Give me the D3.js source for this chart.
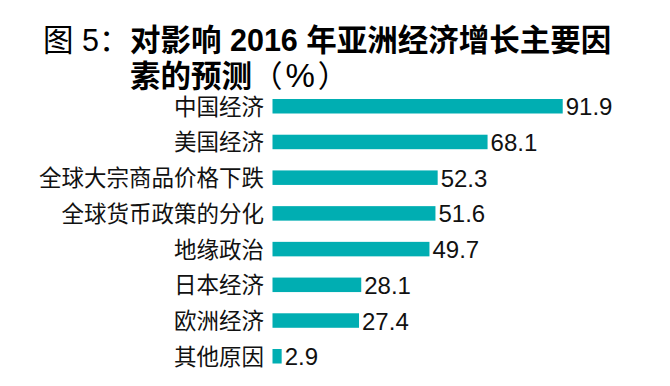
<!DOCTYPE html>
<html><head><meta charset="utf-8">
<script src="https://cdn.jsdelivr.net/npm/d3@7"></script>
<style>body{margin:0;background:#fff}svg{display:block}</style>
</head><body>
<script>
const categories = ["中国经济","美国经济","全球大宗商品价格下跌","全球货币政策的分化","地缘政治","日本经济","欧洲经济","其他原因"];
const values = [91.9, 68.1, 52.3, 51.6, 49.7, 28.1, 27.4, 2.9];
const titlePrefix = "图 5：";
const titleLine1 = "对影响 2016 年亚洲经济增长主要因";
const titleLine2a = "素的预测";
const titleLine2b = ["（", "%", "）"];

const W = 670, H = 386;
const svg = d3.select("body").append("svg").attr("width", W).attr("height", H);
const FONT = "'Liberation Sans', Arial, 'Noto Sans CJK SC', sans-serif";

const x = d3.scaleLinear().domain([0, 100]).range([272.5, 588.3]);
const y = d3.scaleBand().domain(categories).range([99, 363.5]).paddingInner(0.594).paddingOuter(0);

// title
svg.append("text").attr("x", 43).attr("y", 51)
  .attr("font-family", FONT).attr("font-size", 30.5).attr("fill", "#000")
  .text(titlePrefix);
svg.append("text").attr("x", 130).attr("y", 51)
  .attr("font-family", FONT).attr("font-size", 30.5).attr("font-weight", "bold").attr("fill", "#000")
  .text(titleLine1);
const t2 = svg.append("text").attr("x", 130).attr("y", 87)
  .attr("font-family", FONT).attr("font-size", 30.5).attr("fill", "#000");
t2.append("tspan").attr("font-weight", "bold").text(titleLine2a);
t2.append("tspan").attr("font-weight", "normal").text(titleLine2b[0]);
t2.append("tspan").attr("font-weight", "normal").attr("font-size", 33).attr("dx", 3).text(titleLine2b[1]);
t2.append("tspan").attr("font-weight", "normal").attr("dx", 3).text(titleLine2b[2]);

const g = svg.append("g");
g.selectAll("rect.bar").data(values).join("rect").attr("class","bar")
  .attr("x", x(0)).attr("y", (d,i) => y(categories[i]))
  .attr("width", d => x(d) - x(0)).attr("height", y.bandwidth())
  .attr("fill", "#00aeb2");

g.selectAll("text.cat").data(categories).join("text").attr("class","cat")
  .attr("x", 264).attr("y", d => y(d) + y.bandwidth()/2 + 1)
  .attr("text-anchor", "end").attr("dominant-baseline", "central")
  .attr("font-family", FONT).attr("font-size", 22.5).attr("fill", "#111")
  .text(d => d);

g.selectAll("text.val").data(values).join("text").attr("class","val")
  .attr("x", d => x(d) + 3).attr("y", (d,i) => y(categories[i]) + y.bandwidth()/2 + 9)
  .attr("font-family", FONT).attr("font-size", 24).attr("fill", "#111")
  .text(d => d3.format(".1f")(d));
</script>
</body></html>
